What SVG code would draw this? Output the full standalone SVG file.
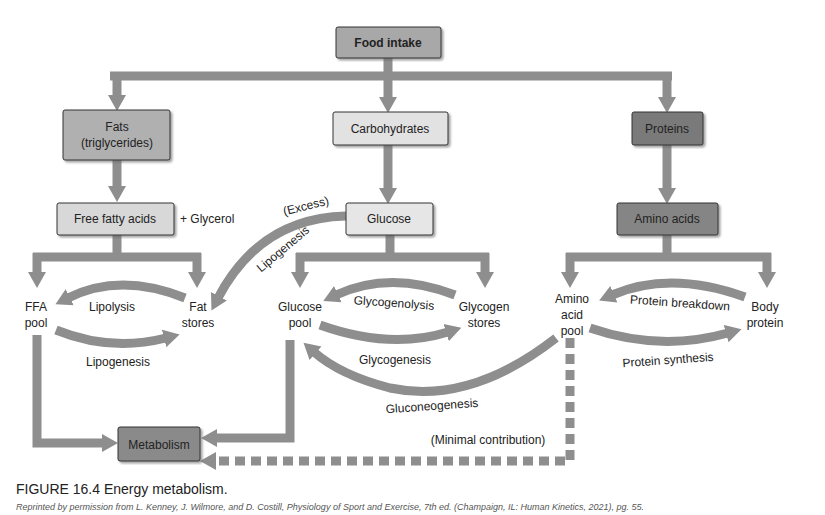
<svg xmlns="http://www.w3.org/2000/svg" width="825" height="515" viewBox="0 0 825 515">
<style>
text{font-family:"Liberation Sans",Arial,sans-serif;font-size:12px;fill:#222}
.b{stroke:#333;stroke-width:1}
.c{fill:none;stroke:#8e8e8e;stroke-width:9}
.d{fill:none;stroke:#8e8e8e;stroke-width:9;stroke-dasharray:10,6}
.m{text-anchor:middle}
</style>
<defs>
<marker id="a" markerUnits="userSpaceOnUse" markerWidth="20" markerHeight="20" refX="2" refY="10" orient="auto"><path d="M0,1 L16,10 L0,19 Z" fill="#8e8e8e"/></marker>
<filter id="s"><feDropShadow dx="2" dy="2" stdDeviation="1" flood-color="#666" flood-opacity="0.6"/></filter>
</defs>
<rect width="825" height="515" fill="#fff"/>
<g id="connectors">
<path class="c" d="M388,58 V76 M110,76 H672"/>
<path class="c" d="M117,72 V97" marker-end="url(#a)"/>
<path class="c" d="M388,72 V99" marker-end="url(#a)"/>
<path class="c" d="M667,72 V99" marker-end="url(#a)"/>
<path class="c" d="M117,160 V188" marker-end="url(#a)"/>
<path class="c" d="M388,145 V190" marker-end="url(#a)"/>
<path class="c" d="M667,145 V190" marker-end="url(#a)"/>
<path class="c" d="M117,235 V257 M33,257 H201"/>
<path class="c" d="M37,253 V274" marker-end="url(#a)"/>
<path class="c" d="M197,253 V274" marker-end="url(#a)"/>
<path class="c" d="M390,235 V257 M296,257 H489"/>
<path class="c" d="M300,253 V274" marker-end="url(#a)"/>
<path class="c" d="M485,253 V274" marker-end="url(#a)"/>
<path class="c" d="M667,235 V257 M566,257 H771"/>
<path class="c" d="M570,253 V274" marker-end="url(#a)"/>
<path class="c" d="M767,253 V274" marker-end="url(#a)"/>
<path class="c" d="M185,298 Q120,272 68,298" marker-end="url(#a)"/>
<path class="c" d="M56,330 Q110,352 166,338" marker-end="url(#a)"/>
<path class="c" d="M346,216 Q260,218 218,298" marker-end="url(#a)"/>
<path class="c" d="M455,295 Q390,270 336,295" marker-end="url(#a)"/>
<path class="c" d="M320,325 Q390,350 448,332" marker-end="url(#a)"/>
<path class="c" d="M745,297 Q670,270 612,295" marker-end="url(#a)"/>
<path class="c" d="M590,328 Q660,352 728,333" marker-end="url(#a)"/>
<path class="c" d="M556,338 Q470,405 390,388 Q340,375 314,352" marker-end="url(#a)"/>
<path class="c" d="M37,335 V443 H104" marker-end="url(#a)"/>
<path class="c" d="M290,340 V438 H215" marker-end="url(#a)"/>
<path class="d" d="M570,338 V461 H215"/>
<path d="M216,452 L200,461 L216,470 Z" fill="#8e8e8e"/>
</g>
<g id="food"><rect x="336" y="27" width="105" height="31" fill="#a8a8a8" class="b" filter="url(#s)" rx="2"/><text x="388" y="47" class="m" font-weight="bold">Food intake</text></g>
<g id="fats"><rect x="63" y="110" width="107" height="50" fill="#b0b0b0" class="b" filter="url(#s)" rx="2"/><text x="117" y="131" class="m">Fats</text><text x="117" y="147" class="m">(triglycerides)</text></g>
<g id="carbs"><rect x="333" y="112" width="115" height="33" fill="#e2e2e2" class="b" filter="url(#s)" rx="2"/><text x="390" y="133" class="m">Carbohydrates</text></g>
<g id="proteins"><rect x="632" y="112" width="71" height="33" fill="#7a7a7a" class="b" filter="url(#s)" rx="2"/><text x="667" y="133" class="m">Proteins</text></g>
<g id="ffa"><rect x="57" y="203" width="117" height="32" fill="#d8d8d8" class="b" filter="url(#s)" rx="2"/><text x="115" y="223" class="m">Free fatty acids</text><text x="180" y="223">+ Glycerol</text></g>
<g id="glucose"><rect x="346" y="203" width="87" height="32" fill="#e6e6e6" class="b" filter="url(#s)" rx="2"/><text x="389" y="223" class="m">Glucose</text></g>
<g id="amino"><rect x="617" y="203" width="101" height="32" fill="#858585" class="b" filter="url(#s)" rx="2"/><text x="667" y="223" class="m">Amino acids</text></g>
<g id="ffapool"><text x="36" y="311" class="m">FFA</text><text x="36" y="327" class="m">pool</text></g>
<g id="fatstores"><text x="198" y="311" class="m">Fat</text><text x="198" y="327" class="m">stores</text></g>
<g id="glucosepool"><text x="300" y="311" class="m">Glucose</text><text x="300" y="327" class="m">pool</text></g>
<g id="glycogen"><text x="484" y="311" class="m">Glycogen</text><text x="484" y="327" class="m">stores</text></g>
<g id="aminopool"><text x="572" y="303" class="m">Amino</text><text x="572" y="319" class="m">acid</text><text x="572" y="335" class="m">pool</text></g>
<g id="body"><text x="765" y="311" class="m">Body</text><text x="765" y="327" class="m">protein</text></g>
<g id="metabolism"><rect x="118" y="427" width="82" height="34" fill="#8a8a8a" class="b" filter="url(#s)" rx="2"/><text x="159" y="449" class="m">Metabolism</text></g>
<g id="labels">
<text x="112" y="311" class="m">Lipolysis</text>
<text x="118" y="366" class="m">Lipogenesis</text>
<text x="306" y="210" class="m" transform="rotate(-14 306 206)">(Excess)</text>
<text x="283" y="253" class="m" transform="rotate(-40 283 249)">Lipogenesis</text>
<text x="394" y="307" class="m" transform="rotate(4 394 303)">Glycogenolysis</text>
<text x="395" y="364" class="m">Glycogenesis</text>
<text x="680" y="307" class="m" transform="rotate(4 680 303)">Protein breakdown</text>
<text x="668" y="364" class="m" transform="rotate(-4 668 360)">Protein synthesis</text>
<text x="432" y="410" class="m" transform="rotate(-4 432 406)">Gluconeogenesis</text>
<text x="488" y="444" class="m">(Minimal contribution)</text>
</g>
<text x="16" y="494" style="font-size:14px">FIGURE 16.4    Energy metabolism.</text>
<text x="16" y="510" style="font-size:9px;font-style:italic;fill:#555">Reprinted by permission from L. Kenney, J. Wilmore, and D. Costill, Physiology of Sport and Exercise, 7th ed. (Champaign, IL: Human Kinetics, 2021), pg. 55.</text>
</svg>
